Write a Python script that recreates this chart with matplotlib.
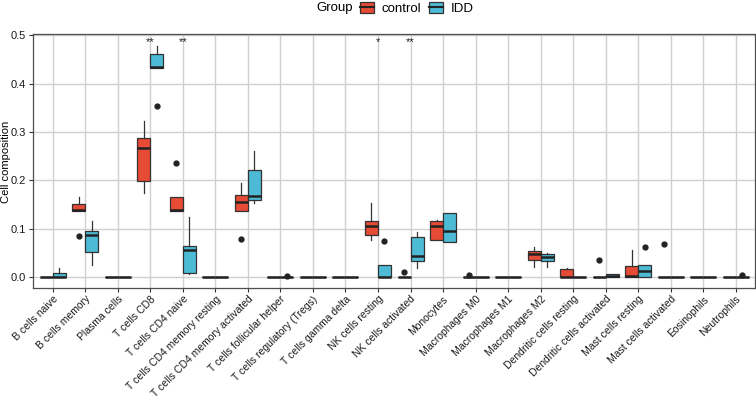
import matplotlib
matplotlib.use('Agg')
import matplotlib.pyplot as plt
from matplotlib.patches import Patch
from matplotlib.lines import Line2D

plt.rcParams['font.family'] = ['Liberation Sans', 'DejaVu Sans']

# Cell types (x categories)
cells = ['B cells naive', 'B cells memory', 'Plasma cells', 'T cells CD8',
         'T cells CD4 naive', 'T cells CD4 memory resting',
         'T cells CD4 memory activated', 'T cells follicular helper',
         'T cells regulatory (Tregs)', 'T cells gamma delta',
         'NK cells resting', 'NK cells activated', 'Monocytes',
         'Macrophages M0', 'Macrophages M1', 'Macrophages M2',
         'Dendritic cells resting', 'Dendritic cells activated',
         'Mast cells resting', 'Mast cells activated', 'Eosinophils',
         'Neutrophils']

# control group box statistics
ctrl_whislo = [0, 0.137, 0, 0.175, 0.138, 0, 0.138, 0, 0, 0, 0.078, 0, 0.077, 0, 0, 0.022, 0, 0, 0, 0, 0, 0]
ctrl_q1 = [0, 0.137, 0, 0.199, 0.138, 0, 0.138, 0, 0, 0, 0.087, 0, 0.077, 0, 0, 0.036, 0, 0, 0, 0, 0, 0]
ctrl_med = [0, 0.140, 0, 0.267, 0.140, 0, 0.155, 0, 0, 0, 0.106, 0, 0.106, 0, 0, 0.049, 0, 0, 0.003, 0, 0, 0]
ctrl_q3 = [0, 0.152, 0, 0.288, 0.165, 0, 0.170, 0, 0, 0, 0.117, 0, 0.117, 0, 0, 0.054, 0.018, 0, 0.024, 0, 0, 0]
ctrl_whishi = [0, 0.166, 0, 0.323, 0.165, 0, 0.194, 0, 0, 0, 0.154, 0, 0.119, 0, 0, 0.062, 0.020, 0, 0.056, 0, 0, 0]
ctrl_fliers = {'B cells memory': [0.086], 'T cells CD4 naive': [0.236],
               'T cells CD4 memory activated': [0.080], 'NK cells activated': [0.012],
               'Macrophages M0': [0.005], 'Dendritic cells activated': [0.036],
               'Mast cells activated': [0.069]}

# IDD group box statistics
idd_whislo = [0, 0.026, 0, 0.433, 0.007, 0, 0.154, 0, 0, 0, 0, 0.019, 0.073, 0, 0, 0.0215, 0, 0, 0, 0, 0, 0]
idd_q1 = [0, 0.053, 0, 0.433, 0.010, 0, 0.159, 0, 0, 0, 0, 0.034, 0.073, 0, 0, 0.033, 0, 0, 0, 0, 0, 0]
idd_med = [0, 0.087, 0, 0.435, 0.056, 0, 0.168, 0, 0, 0, 0, 0.044, 0.095, 0, 0, 0.042, 0, 0.003, 0.0125, 0, 0, 0]
idd_q3 = [0.009, 0.096, 0, 0.462, 0.065, 0, 0.2225, 0, 0, 0, 0.026, 0.084, 0.133, 0, 0, 0.048, 0, 0.008, 0.025, 0, 0, 0]
idd_whishi = [0.020, 0.117, 0, 0.477, 0.124, 0, 0.260, 0, 0, 0, 0.026, 0.093, 0.133, 0, 0, 0.051, 0, 0.008, 0.025, 0, 0, 0]
idd_fliers = {'T cells CD8': [0.353], 'T cells follicular helper': [0.003],
              'NK cells resting': [0.076], 'Mast cells resting': [0.063],
              'Neutrophils': [0.004]}

# significance marks
sig = ['', '', '', '**', '**', '', '', '', '', '', '*', '**',
       '', '', '', '', '', '', '', '', '', '']

ctrl_color = '#E64B35'
idd_color = '#4DBBD5'
edge = '#333333'


def make_stats(whislo, q1, med, q3, whishi, fliers):
    stats = []
    for i, name in enumerate(cells):
        stats.append({'whislo': whislo[i], 'q1': q1[i], 'med': med[i],
                      'q3': q3[i], 'whishi': whishi[i],
                      'fliers': fliers.get(name, [])})
    return stats


fig = plt.figure(figsize=(7.56, 4.0), dpi=100)
ax = fig.add_axes([0.044, 0.279, 0.955, 0.635])

pos = list(range(1, len(cells) + 1))
width = 0.4

for stats, color, shift in [
        (make_stats(ctrl_whislo, ctrl_q1, ctrl_med, ctrl_q3, ctrl_whishi, ctrl_fliers), ctrl_color, -0.2),
        (make_stats(idd_whislo, idd_q1, idd_med, idd_q3, idd_whishi, idd_fliers), idd_color, 0.2)]:
    ax.bxp(stats, positions=[p + shift for p in pos], widths=width,
           patch_artist=True, showcaps=False, manage_ticks=False,
           boxprops=dict(facecolor=color, edgecolor=edge, linewidth=0.9),
           medianprops=dict(color='#222222', linewidth=1.8),
           whiskerprops=dict(color=edge, linewidth=0.9),
           flierprops=dict(marker='o', markerfacecolor='#222222',
                           markeredgecolor='#222222', markersize=3.5),
           zorder=3)

# significance stars
for p, s in zip(pos, sig):
    if s:
        ax.text(p, 0.479, s, ha='center', va='baseline', fontsize=8, color='#222222')

ax.set_xlim(0.4, 22.6)
ax.set_ylim(-0.0227, 0.5015)
ax.set_xticks(pos)
ax.set_xticklabels(cells, rotation=45, ha='right', va='top', rotation_mode='anchor',
                   fontsize=7.5, color='#1a1a1a')
ax.set_yticks([0, 0.1, 0.2, 0.3, 0.4, 0.5])
ax.set_yticklabels(['0.0', '0.1', '0.2', '0.3', '0.4', '0.5'], fontsize=8, color='#1a1a1a')
ax.tick_params(length=3, color='#333333', width=0.8, pad=2)
ax.tick_params(axis='x', pad=1)
ax.set_ylabel('Cell composition', fontsize=8)
ax.yaxis.set_label_coords(-0.031, 0.5)

ax.grid(True, color='#D0D0D0', linewidth=1.0, zorder=0)
ax.set_axisbelow(True)
for sp in ax.spines.values():
    sp.set_color('#4d4d4d')
    sp.set_linewidth(0.9)

# Legend at top
fig.text(0.418, 0.979, 'Group', fontsize=9.5, va='center', ha='left')
handles = [(Patch(facecolor=ctrl_color, edgecolor=edge, linewidth=0.9),
            Line2D([], [], color='#222222', linewidth=1.5)),
           (Patch(facecolor=idd_color, edgecolor=edge, linewidth=0.9),
            Line2D([], [], color='#222222', linewidth=1.5))]
fig.legend(handles, ['control', 'IDD'], ncol=2, frameon=False,
           loc='center left', bbox_to_anchor=(0.476, 0.979),
           fontsize=9.5, borderpad=0, borderaxespad=0, handlelength=1.05,
           handleheight=0.9, handletextpad=0.6, columnspacing=0.6)

fig.savefig('out.png', dpi=100)
